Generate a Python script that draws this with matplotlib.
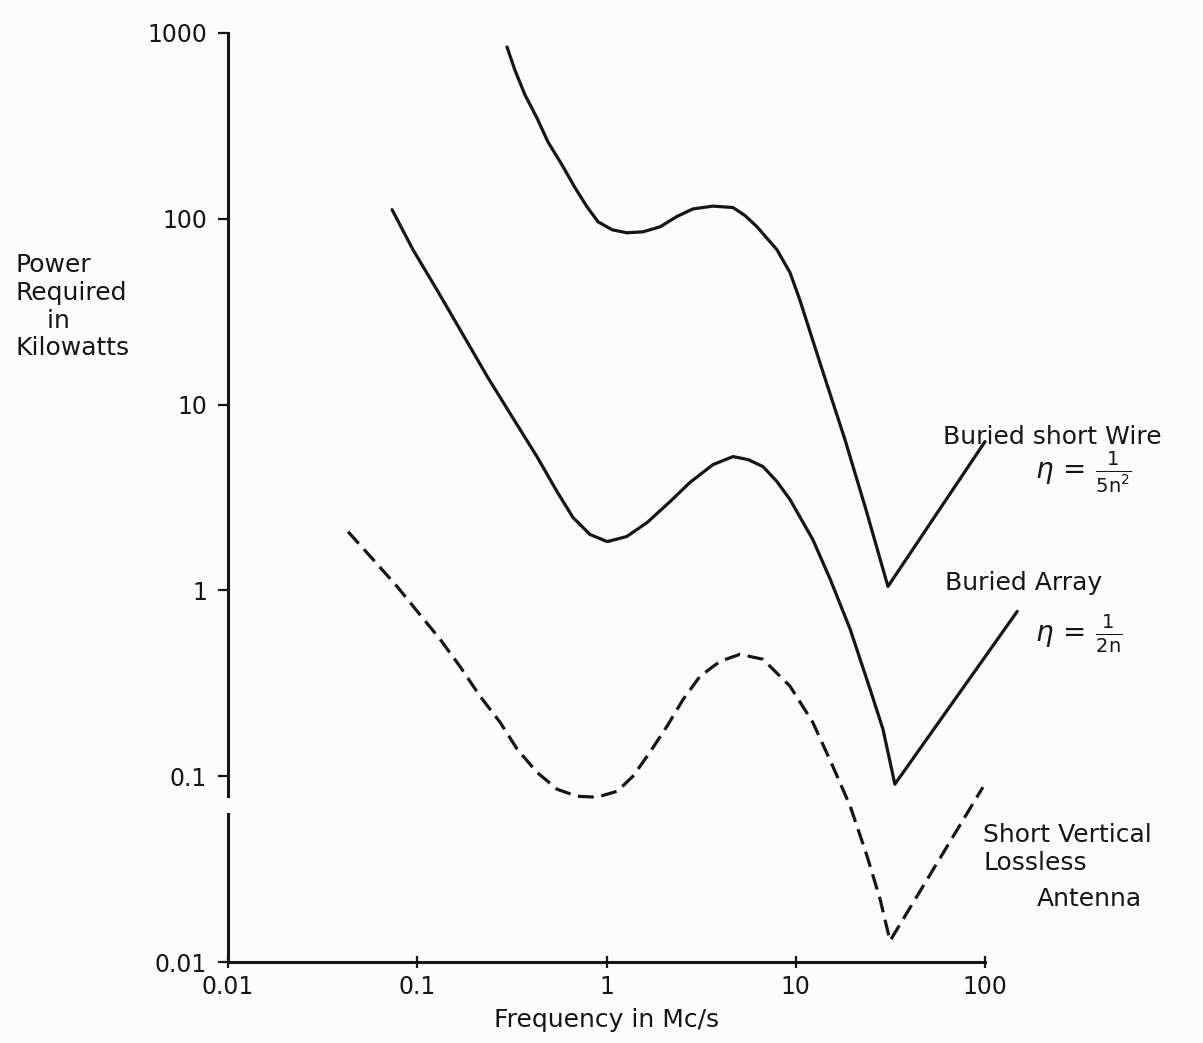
import matplotlib
matplotlib.use("Agg")
import matplotlib.pyplot as plt
from matplotlib.ticker import FixedLocator, FixedFormatter, NullLocator

plt.rcParams["font.family"] = ["DejaVu Sans"]
plt.rcParams["mathtext.fontset"] = "dejavusans"

# frequency (Mc/s) and power (kW)
wire_freq = [0.298, 0.328, 0.371, 0.429, 0.491, 0.582, 0.682, 0.789, 0.902, 1.07,
             1.28, 1.56, 1.92, 2.36, 2.86, 3.65, 4.66, 5.40, 6.24, 7.96, 9.33,
             10.5, 13.8, 18.2, 23.5, 30.7, 100.0]
wire_power = [841, 632, 464, 349, 259, 195, 147, 116, 96.4, 87.3,
              84.1, 85.1, 90.6, 103, 113, 117, 115, 104, 90.6, 68.1, 51.3,
              36.7, 15.4, 6.48, 2.72, 1.05, 6.32]

array_freq = [0.0736, 0.0950, 0.127, 0.172, 0.234, 0.317, 0.429, 0.548, 0.665, 0.818,
              1.01, 1.28, 1.64, 2.17, 2.76, 3.65, 4.66, 5.60, 6.71, 7.96, 9.33, 12.3,
              15.2, 19.4, 24.7, 28.9, 33.4, 148.0]
array_power = [112, 68.1, 41.5, 24.4, 14.2, 8.61, 5.25, 3.40, 2.47, 2.00,
               1.83, 1.95, 2.32, 3.01, 3.81, 4.75, 5.25, 5.06, 4.64, 3.85, 3.08, 1.88,
               1.15, 0.617, 0.294, 0.179, 0.0906, 0.771]

vert_freq = [0.0431, 0.0583, 0.0782, 0.101, 0.132, 0.168, 0.215, 0.274, 0.337, 0.429,
             0.548, 0.698, 0.891, 1.14, 1.38, 1.70, 2.09, 2.54, 3.12, 3.98,
             5.07, 6.71, 9.33, 12.3, 15.7, 19.4, 23.8, 27.9, 31.5, 97.5]
vert_power = [2.07, 1.47, 1.05, 0.762, 0.546, 0.390, 0.269, 0.195, 0.140, 0.105,
              0.0851, 0.078, 0.0771, 0.083, 0.100, 0.135, 0.186, 0.259, 0.345, 0.415,
              0.453, 0.426, 0.305, 0.195, 0.113, 0.069, 0.0372, 0.0218, 0.0130, 0.0873]

x_ticks = [0.01, 0.1, 1, 10, 100]
x_labels = ["0.01", "0.1", "1", "10", "100"]
y_ticks = [0.01, 0.1, 1, 10, 100, 1000]
y_labels = ["0.01", "0.1", "1", "10", "100", "1000"]

W, H = 1203, 1043
ink = "#151515"
paper = "#fcfcfa"

fig = plt.figure(figsize=(W / 100, H / 100), dpi=100, facecolor=paper)
ax = fig.add_axes([228 / W, 1 - 962 / H, 757 / W, 929 / H], facecolor=paper)

ax.set_xscale("log")
ax.set_yscale("log")
ax.set_xlim(0.01, 100)
ax.set_ylim(0.01, 1000)

lw = 2.3
ax.plot(wire_freq, wire_power, color=ink, lw=lw, clip_on=False,
        solid_joinstyle="round", solid_capstyle="round")
ax.plot(array_freq, array_power, color=ink, lw=lw, clip_on=False,
        solid_joinstyle="round", solid_capstyle="round")
ax.plot(vert_freq, vert_power, color=ink, lw=lw, clip_on=False,
        linestyle=(0, (5, 2.4)), dash_capstyle="butt")

for side in ("top", "right"):
    ax.spines[side].set_visible(False)
for side in ("left", "bottom"):
    ax.spines[side].set_linewidth(2.2)
    ax.spines[side].set_color(ink)
# the scanned y axis has a small break just below 0.1
ax.spines["left"].set_bounds(0.078, 1000)
ax.axvline(0.01, ymin=0, ymax=0.159, color=ink, lw=2.2, clip_on=False)

ax.xaxis.set_major_locator(FixedLocator(x_ticks))
ax.xaxis.set_major_formatter(FixedFormatter(x_labels))
ax.yaxis.set_major_locator(FixedLocator(y_ticks))
ax.yaxis.set_major_formatter(FixedFormatter(y_labels))
ax.xaxis.set_minor_locator(NullLocator())
ax.yaxis.set_minor_locator(NullLocator())
ax.tick_params(axis="x", direction="inout", length=9, width=1.6, color=ink,
               labelsize=17, labelcolor=ink, pad=5)
ax.tick_params(axis="y", direction="out", length=7, width=1.6, color=ink,
               labelsize=17, labelcolor=ink, pad=8)

ax.set_xlabel("Frequency in Mc/s", fontsize=18, color=ink, labelpad=6)

fs = 18
fig.text(15 / W, 1 - 253 / H, "Power\nRequired\n    in\nKilowatts", fontsize=fs,
         color=ink, ha="left", va="top", linespacing=1.2)

fig.text(943 / W, 1 - 444 / H, "Buried short Wire", fontsize=fs, color=ink,
         ha="left", va="baseline")
fig.text(1035 / W, 1 - 472 / H, r"$\eta\,{=}\,\frac{1}{\mathrm{5n}^{2}}$",
         fontsize=20, color=ink, ha="left", va="center")
fig.text(945 / W, 1 - 590 / H, "Buried Array", fontsize=fs, color=ink,
         ha="left", va="baseline")
fig.text(1035 / W, 1 - 634 / H, r"$\eta\,{=}\,\frac{1}{\mathrm{2n}}$",
         fontsize=20, color=ink, ha="left", va="center")
fig.text(983 / W, 1 - 849 / H, "Short Vertical\nLossless", fontsize=fs, color=ink,
         ha="left", va="center", linespacing=1.2)
fig.text(1037 / W, 1 - 899 / H, "Antenna", fontsize=fs, color=ink,
         ha="left", va="center")

fig.savefig("out.png", dpi=100, facecolor=paper)
